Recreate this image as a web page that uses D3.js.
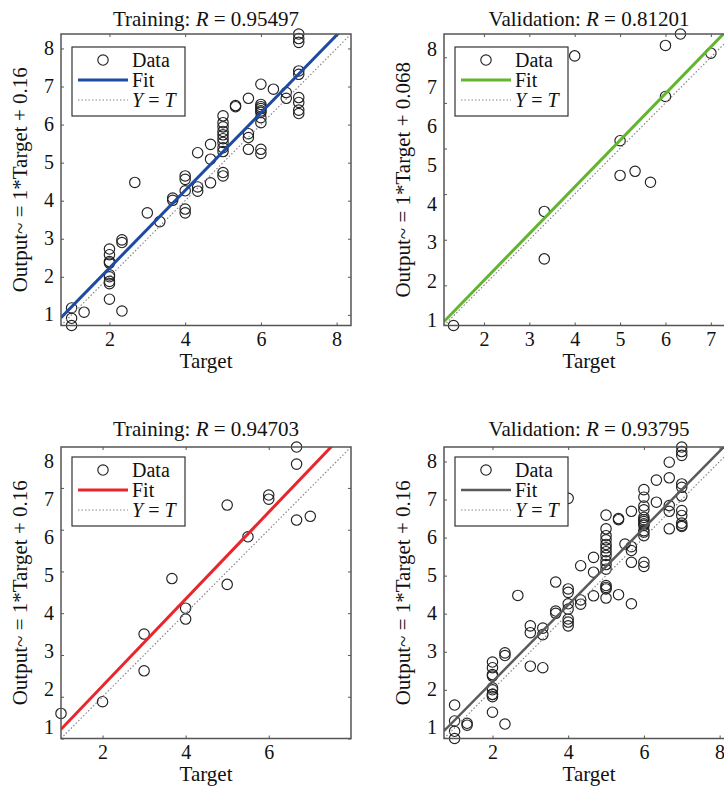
<!DOCTYPE html>
<html>
<head>
<meta charset="utf-8">
<script src="https://cdn.jsdelivr.net/npm/d3@7/dist/d3.min.js"></script>
<style>
  body { margin: 0; background: #fff; }
  svg text { font-family: "Liberation Serif", "Times New Roman", serif; fill: #111; }
</style>
</head>
<body>
<svg id="chart" width="724" height="787"></svg>
<script>
// Values (target / network output pairs).
var trainTarget = [1, 1, 1, 1.33,
  2, 2, 2, 2, 2, 2, 2, 2, 2,
  2.33, 2.33, 2.33, 2.67, 3, 3.33, 3.67, 3.67,
  4, 4, 4, 4, 4, 4.33, 4.33, 4.33, 4.67, 4.67, 4.67,
  5, 5, 5, 5, 5, 5, 5, 5, 5, 5, 5,
  5.33, 5.33, 5.67, 5.67, 5.67, 5.67,
  6, 6, 6, 6, 6, 6, 6, 6, 6, 6,
  6.33, 6.67, 6.67,
  7, 7, 7, 7, 7, 7, 7, 7, 7];
var trainOutput = [1.18, 0.91, 0.72, 1.07,
  2.73, 2.58, 2.4, 2.36, 2.05, 2.0, 1.88, 1.82, 1.41,
  2.97, 2.9, 1.1, 4.48, 3.68, 3.45, 4.07, 4.01,
  4.65, 4.56, 4.26, 3.78, 3.68, 5.26, 4.36, 4.25, 5.48, 5.09, 4.47,
  6.23, 6.05, 5.94, 5.82, 5.73, 5.63, 5.53, 5.39, 5.29, 4.74, 4.65,
  6.5, 6.47, 6.69, 5.76, 5.66, 5.35,
  7.06, 6.53, 6.47, 6.42, 6.36, 6.32, 6.18, 6.05, 5.35, 5.24,
  6.93, 6.84, 6.69,
  8.38, 8.26, 8.16, 7.41, 7.32, 6.71, 6.58, 6.38, 6.29];

var validTarget = [1.33, 3.33, 3.33, 4, 5, 5, 5.33, 5.67, 6, 6, 6.33, 7];
var validOutput = [1.12, 3.62, 2.58, 7.03, 5.17, 4.41, 4.5, 4.26, 7.26, 6.14, 7.51, 7.09];

var testTarget = [1, 2, 3, 3, 3.67, 4, 4, 5, 5, 5.5, 6, 6, 6.67, 6.67, 6.67, 7];
var testOutput = [1.6, 1.88, 3.5, 2.62, 4.83, 4.12, 3.86, 6.59, 4.69, 5.83, 6.83, 6.73, 7.98, 7.57, 6.23, 6.32];

// last panel holds every sample
var allTarget = trainTarget.concat(validTarget, testTarget);
var allOutput = trainOutput.concat(validOutput, testOutput);

var panelNames = ['Training', 'Validation', 'Training', 'Validation'];
var rValues = ['0.95497', '0.81201', '0.94703', '0.93795'];
var fitSlopes = [1.02, 1.024, 1.04, 1.01];
var fitIntercepts = [0.19, 0.06, 0.18, 0.19];
var yAxisTitles = ['Output~ = 1*Target + 0.16', 'Output~ = 1*Target + 0.068',
                   'Output~ = 1*Target + 0.16', 'Output~ = 1*Target + 0.16'];
var xTickValues = [[2, 4, 6, 8], [2, 3, 4, 5, 6, 7], [2, 4, 6], [2, 4, 6, 8]];
var yTickLabels = [1, 2, 3, 4, 5, 6, 7, 8];
// the printed y labels do not sit on the real tick marks in every panel
var yLabelExtents = [[0.71, 8.38], [0.86, 8.38], [0.71, 8.38], [0.71, 8.38]];

// Styles
var fitColors = ['#1d4aa3', '#62b52e', '#e8262b', '#5a5a5a'];
var fitWidths = [3, 3, 3, 2.5];
var axisColor = '#555';

var svg = d3.select('#chart');
svg.append('rect').attr('width', 724).attr('height', 787).attr('fill', '#fff');

var plotW = 290, plotH = 291.5;
var lefts = [61, 444, 61, 444];
var tops = [34, 34, 447, 447];
var titleGap = [8, 11];
var intFormat = d3.format('d');

function draw_panel(i, targets, outputs) {
  // square limits, like the original regression plot
  var lo = Math.min(d3.min(targets), d3.min(outputs));
  var hi = Math.max(d3.max(targets), d3.max(outputs));
  var x = d3.scaleLinear().domain([lo, hi]).range([0, plotW]);
  var y = d3.scaleLinear().domain([lo, hi]).range([plotH, 0]);
  var yLab = d3.scaleLinear().domain(yLabelExtents[i]).range([plotH, 0]);

  var g = svg.append('g')
    .attr('transform', 'translate(' + lefts[i] + ',' + tops[i] + ')');

  g.append('clipPath').attr('id', 'clip' + i)
    .append('rect').attr('width', plotW).attr('height', plotH);

  // data circles
  g.append('g').selectAll('circle')
    .data(d3.range(targets.length))
    .join('circle')
    .attr('cx', function(k) { return x(targets[k]); })
    .attr('cy', function(k) { return y(outputs[k]); })
    .attr('r', 5.2)
    .attr('fill', 'none')
    .attr('stroke', '#222')
    .attr('stroke-width', 1.15);

  var line = d3.line()
    .x(function(d) { return x(d[0]); })
    .y(function(d) { return y(d[1]); });

  // fit line
  g.append('path')
    .datum([[lo, fitSlopes[i] * lo + fitIntercepts[i]], [hi, fitSlopes[i] * hi + fitIntercepts[i]]])
    .attr('clip-path', 'url(#clip' + i + ')')
    .attr('fill', 'none')
    .attr('stroke', fitColors[i])
    .attr('stroke-width', fitWidths[i])
    .attr('d', line);

  // Y = T reference
  g.append('path')
    .datum([[lo, lo], [hi, hi]])
    .attr('fill', 'none')
    .attr('stroke', '#888')
    .attr('stroke-width', 1.2)
    .attr('stroke-dasharray', '1.5,2')
    .attr('d', line);

  // box
  g.append('rect')
    .attr('width', plotW).attr('height', plotH)
    .attr('fill', 'none')
    .attr('stroke', axisColor)
    .attr('stroke-width', 1.5);

  // tick marks on all four sides (pointing inwards)
  var yMarks = d3.range(Math.ceil(lo), Math.floor(hi) + 1);
  g.append('g').attr('transform', 'translate(0,' + plotH + ')')
    .call(d3.axisBottom(x).tickValues(xTickValues[i]).tickFormat(intFormat)
      .tickSizeInner(-3).tickSizeOuter(0).tickPadding(6));
  g.append('g')
    .call(d3.axisTop(x).tickValues(xTickValues[i]).tickSizeInner(-3).tickSizeOuter(0).tickFormat(''));
  g.append('g')
    .call(d3.axisLeft(y).tickValues(yMarks).tickSizeInner(-3).tickSizeOuter(0).tickFormat(''));
  g.append('g').attr('transform', 'translate(' + plotW + ',0)')
    .call(d3.axisRight(y).tickValues(yMarks).tickSizeInner(-3).tickSizeOuter(0).tickFormat(''));
  // printed y labels
  g.append('g')
    .call(d3.axisLeft(yLab).tickValues(yTickLabels).tickFormat(intFormat).tickSize(0).tickPadding(7));

  g.selectAll('.domain').remove();
  g.selectAll('.tick line').attr('stroke', axisColor);
  g.selectAll('.tick text')
    .style('font-family', '"Liberation Serif", "Times New Roman", serif')
    .style('font-size', '20px')
    .attr('fill', '#111');

  // title
  var title = g.append('text')
    .attr('x', plotW / 2)
    .attr('y', -titleGap[Math.floor(i / 2)])
    .attr('text-anchor', 'middle')
    .style('font-size', '21px');
  title.append('tspan').text(panelNames[i] + ': ');
  title.append('tspan').style('font-style', 'italic').text('R');
  title.append('tspan').text(' = ' + rValues[i]);

  // axis titles
  g.append('text')
    .attr('x', plotW / 2)
    .attr('y', plotH + 42)
    .attr('text-anchor', 'middle')
    .style('font-size', '21px')
    .text('Target');
  g.append('text')
    .attr('transform', 'translate(-34,' + (plotH / 2) + ') rotate(-90)')
    .attr('text-anchor', 'middle')
    .style('font-size', '21px')
    .text(yAxisTitles[i]);

  // legend
  var lg = g.append('g').attr('transform', 'translate(11,' + (i < 2 ? 13 : 10) + ')');
  lg.append('rect')
    .attr('width', 113).attr('height', 69)
    .attr('fill', '#fff')
    .attr('stroke', '#333')
    .attr('stroke-width', 1.2);
  lg.append('circle')
    .attr('cx', 31).attr('cy', 13).attr('r', 5.2)
    .attr('fill', 'none').attr('stroke', '#222').attr('stroke-width', 1.15);
  lg.append('line')
    .attr('x1', 6).attr('x2', 56).attr('y1', 33).attr('y2', 33)
    .attr('stroke', fitColors[i]).attr('stroke-width', fitWidths[i]);
  lg.append('line')
    .attr('x1', 6).attr('x2', 56).attr('y1', 53).attr('y2', 53)
    .attr('stroke', '#888').attr('stroke-width', 1.2).attr('stroke-dasharray', '1.5,2');
  lg.append('text').attr('x', 60).attr('y', 20).style('font-size', '20px').text('Data');
  lg.append('text').attr('x', 60).attr('y', 40).style('font-size', '20px').text('Fit');
  var yt = lg.append('text').attr('x', 60).attr('y', 60).style('font-size', '20px');
  yt.append('tspan').style('font-style', 'italic').text('Y');
  yt.append('tspan').text(' = ');
  yt.append('tspan').style('font-style', 'italic').text('T');
}

draw_panel(0, trainTarget, trainOutput);
draw_panel(1, validTarget, validOutput);
draw_panel(2, testTarget, testOutput);
draw_panel(3, allTarget, allOutput);
</script>
</body>
</html>
